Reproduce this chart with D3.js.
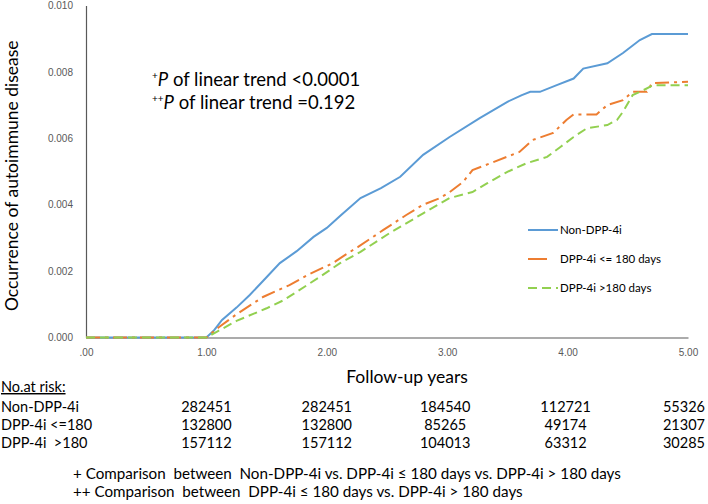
<!DOCTYPE html>
<html>
<head>
<meta charset="utf-8">
<script src="https://cdn.jsdelivr.net/npm/d3@7"></script>
<style>
  body { margin: 0; background: #fff; }
  svg { display: block; font-family: Lato, "Open Sans", sans-serif; }
</style>
</head>
<body>
<div id="chart"></div>
<script>
const width = 708;
const height = 504;
const margin = { top: 5.5, right: 20, bottom: 166.5, left: 86 };

// series breakpoints (follow-up years, cumulative occurrence)
const nonDppT = [0, 1.0, 1.06, 1.13, 1.25, 1.36, 1.47, 1.61, 1.75, 1.89, 2.0, 2.11, 2.28, 2.45, 2.61, 2.80, 3.02, 3.27, 3.50, 3.62, 3.69, 3.77, 3.91, 4.05, 4.13, 4.33, 4.46, 4.60, 4.70, 5.0];
const nonDppV = [0, 0, 0.0002, 0.00053, 0.0009, 0.00128, 0.0017, 0.00224, 0.0026, 0.00303, 0.0033, 0.00366, 0.0042, 0.0045, 0.00484, 0.0055, 0.00604, 0.00661, 0.0071, 0.0073, 0.0074, 0.0074, 0.0076, 0.0078, 0.0081, 0.00826, 0.00857, 0.00896, 0.00914, 0.00914];

const shortT = [0, 1.0, 1.1, 1.25, 1.47, 1.69, 1.85, 2.05, 2.15, 2.26, 2.47, 2.66, 2.80, 2.94, 3.02, 3.13, 3.21, 3.36, 3.60, 3.71, 3.88, 3.99, 4.05, 4.24, 4.33, 4.46, 4.54, 4.66, 4.70, 5.0];
const shortV = [0, 0, 0.0003, 0.0007, 0.00122, 0.00158, 0.0019, 0.00224, 0.00248, 0.00273, 0.00324, 0.00369, 0.0040, 0.0042, 0.00438, 0.00468, 0.00504, 0.00525, 0.00559, 0.00595, 0.00616, 0.00655, 0.00672, 0.00672, 0.0070, 0.00715, 0.0074, 0.0074, 0.00766, 0.0077];

const longT = [0, 1.0, 1.1, 1.25, 1.5, 1.64, 1.94, 2.11, 2.28, 2.52, 2.80, 3.02, 3.21, 3.33, 3.50, 3.66, 3.83, 3.94, 4.05, 4.16, 4.33, 4.41, 4.46, 4.54, 4.63, 4.71, 5.0];
const longV = [0, 0, 0.0002, 0.0005, 0.00088, 0.00112, 0.00182, 0.00224, 0.00258, 0.00314, 0.00374, 0.0042, 0.00438, 0.00464, 0.00499, 0.00525, 0.00544, 0.00574, 0.00604, 0.0063, 0.0064, 0.00655, 0.0068, 0.0073, 0.00745, 0.0076, 0.0076];

const seriesNames = ["Non-DPP-4i", "DPP-4i <= 180 days", "DPP-4i >180 days"];
const seriesColors = ["#5B9BD5", "#ED7D31", "#92D050"];
const seriesDash = [null, "14,5,3,5", "9,5"];

const xTicks = [0, 1, 2, 3, 4, 5];
const yTicks = [0, 0.002, 0.004, 0.006, 0.008, 0.010];

// number at risk table
const riskTimes = [1, 2, 3, 4, 5];
const riskGroups = ["Non-DPP-4i", "DPP-4i <=180", "DPP-4i  >180"];
const riskNonDpp = [282451, 282451, 184540, 112721, 55326];
const riskShort = [132800, 132800, 85265, 49174, 21307];
const riskLong = [157112, 157112, 104013, 63312, 30285];

const footnotes = [
  "+ Comparison  between  Non-DPP-4i vs. DPP-4i \u2264 180 days vs. DPP-4i > 180 days",
  "++ Comparison  between  DPP-4i \u2264 180 days vs. DPP-4i > 180 days"
];

const series = [
  nonDppT.map((t, i) => ({ t, v: nonDppV[i] })),
  shortT.map((t, i) => ({ t, v: shortV[i] })),
  longT.map((t, i) => ({ t, v: longV[i] }))
];

const svg = d3.select("#chart").append("svg")
  .attr("width", width).attr("height", height);

const x = d3.scaleLinear().domain([0, 5]).range([margin.left, width - margin.right]);
const y = d3.scaleLinear().domain([0, 0.010]).range([height - margin.bottom, margin.top]);

const axisColor = "#595959";

// y axis
const yAxis = svg.append("g")
  .attr("transform", `translate(${margin.left},0)`)
  .call(d3.axisLeft(y).tickValues(yTicks).tickFormat(d3.format(".3f")).tickSize(0).tickPadding(13));
yAxis.select(".domain").attr("stroke", axisColor).attr("stroke-width", 1.2);
yAxis.selectAll("text").attr("fill", axisColor).style("font-size", "10px");

// x axis
const xAxis = svg.append("g")
  .attr("transform", `translate(0,${y(0)})`)
  .call(d3.axisBottom(x).tickValues(xTicks)
    .tickFormat(d => d === 0 ? ".00" : d3.format(".2f")(d)).tickSize(0).tickPadding(11));
xAxis.select(".domain").attr("stroke", axisColor).attr("stroke-width", 1.2);
xAxis.selectAll("text").attr("fill", axisColor).style("font-size", "10px");

// curves
const line = d3.line().x(d => x(d.t)).y(d => y(d.v));
series.forEach((s, i) => {
  svg.append("path")
    .datum(s)
    .attr("fill", "none")
    .attr("stroke", seriesColors[i])
    .attr("stroke-width", 2)
    .attr("stroke-dasharray", seriesDash[i])
    .attr("d", line);
});

// axis titles
svg.append("text")
  .attr("transform", `translate(18,${(y(0) + 14) / 2}) rotate(-90)`)
  .attr("text-anchor", "middle")
  .style("font-size", "17.5px")
  .attr("fill", "#000")
  .text("Occurrence of autoimmune disease");

svg.append("text")
  .attr("x", 407)
  .attr("y", 383)
  .attr("text-anchor", "middle")
  .style("font-size", "17.5px")
  .attr("fill", "#000")
  .text("Follow-up years");

// p-value annotations
const notes = [["+", " of linear trend <0.0001"], ["++", " of linear trend =0.192"]];
notes.forEach((n, i) => {
  const t = svg.append("text")
    .attr("x", 152)
    .attr("y", 86 + i * 23)
    .style("font-size", "18.5px")
    .attr("fill", "#000");
  t.append("tspan").text(n[0]).style("font-size", "10px").attr("dy", -7);
  t.append("tspan").text("P").style("font-style", "italic").attr("dy", 7);
  t.append("tspan").text(n[1]);
});

// legend
const legend = svg.append("g");
seriesNames.forEach((name, i) => {
  const ly = 230 + i * 29;
  legend.append("line")
    .attr("x1", 528).attr("x2", i === 1 ? 547 : 558)
    .attr("y1", ly).attr("y2", ly)
    .attr("stroke", seriesColors[i])
    .attr("stroke-width", 2)
    .attr("stroke-dasharray", i === 2 ? "9,5" : null);
  legend.append("text")
    .attr("x", 560).attr("y", ly + 4)
    .style("font-size", "11.5px")
    .attr("fill", "#000")
    .text(name);
});

// number at risk
svg.append("text")
  .attr("x", 1).attr("y", 392)
  .style("font-size", "14.5px")
  .style("text-decoration", "underline")
  .attr("fill", "#000")
  .text("No.at risk:");

const riskRows = [riskNonDpp, riskShort, riskLong];
riskRows.forEach((row, r) => {
  const ry = 412 + r * 18;
  svg.append("text")
    .attr("x", 1).attr("y", ry)
    .style("font-size", "14.5px")
    .style("white-space", "pre")
    .attr("xml:space", "preserve")
    .attr("fill", "#000")
    .text(riskGroups[r]);
  svg.selectAll(null)
    .data(row)
    .join("text")
    .attr("x", (d, i) => i === row.length - 1 ? width - 3 : x(riskTimes[i]) - (i >= 2 ? 2 : 0))
    .attr("y", ry)
    .attr("text-anchor", (d, i) => i === row.length - 1 ? "end" : "middle")
    .style("font-size", "14.5px")
    .attr("fill", "#000")
    .text(d => d);
});

// footnotes
footnotes.forEach((f, i) => {
  svg.append("text")
    .attr("x", 73).attr("y", 479 + i * 18)
    .style("font-size", "15.2px")
    .attr("xml:space", "preserve")
    .style("white-space", "pre")
    .attr("fill", "#000")
    .text(f);
});
</script>
</body>
</html>
